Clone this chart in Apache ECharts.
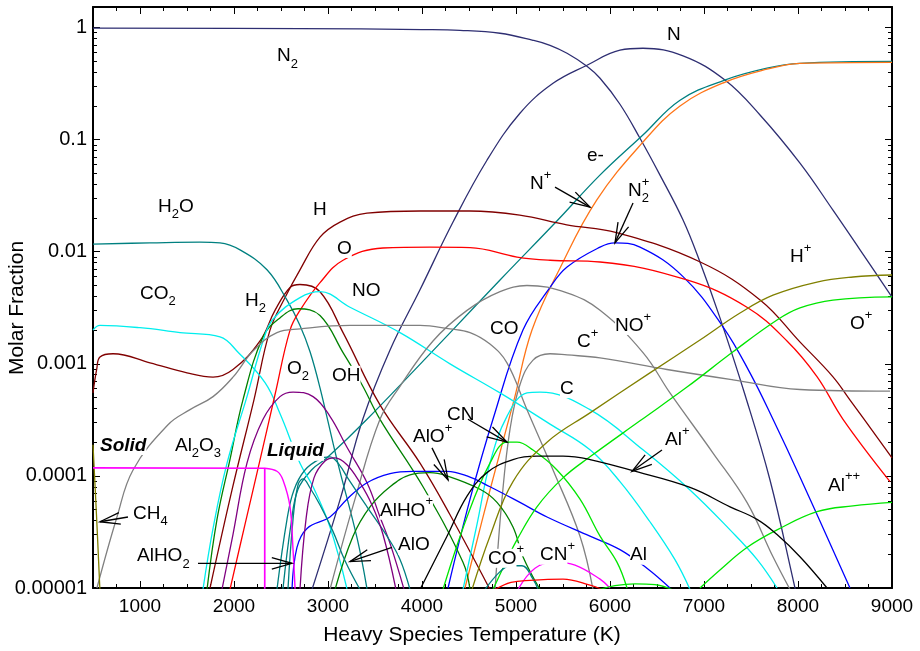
<!DOCTYPE html>
<html>
<head>
<meta charset="utf-8">
<script src="https://cdn.jsdelivr.net/npm/echarts@6/dist/echarts.min.js"></script>
<style>
  html, body { margin: 0; padding: 0; background: #fff; }
  #chart { width: 920px; height: 651px; }
</style>
</head>
<body>
<div id="chart"></div>
<script>
// ---- Axis ticks ----
const xMajorTicks = [1000, 2000, 3000, 4000, 5000, 6000, 7000, 8000, 9000];
const xMinorTicks = [750, 1250, 1500, 1750, 2250, 2500, 2750, 3250, 3500, 3750, 4250, 4500, 4750,
  5250, 5500, 5750, 6250, 6500, 6750, 7250, 7500, 7750, 8250, 8500, 8750];
const yMajorTicks = [1e-5, 1e-4, 1e-3, 1e-2, 1e-1, 1];
const yTickText = ['0.00001', '0.0001', '0.001', '0.01', '0.1', '1'];
const yMinorTicks = [
  2e-5, 3e-5, 4e-5, 5e-5, 6e-5, 7e-5, 8e-5, 9e-5,
  2e-4, 3e-4, 4e-4, 5e-4, 6e-4, 7e-4, 8e-4, 9e-4,
  2e-3, 3e-3, 4e-3, 5e-3, 6e-3, 7e-3, 8e-3, 9e-3,
  0.02, 0.03, 0.04, 0.05, 0.06, 0.07, 0.08, 0.09,
  0.2, 0.3, 0.4, 0.5, 0.6, 0.7, 0.8, 0.9
];

// ---- Molar fractions: [temperature K, molar fraction] ----
const N2 = [[500,0.99],[2700,0.98],[4000,0.96],[4404,0.946],[4830,0.89],[5181,0.77],[5362,0.695],[5543,0.59],[5755,0.452],[5894,0.353],[6106,0.207],[6319,0.103],[6532,0.0483],[6777,0.0192],[6957,0.0081],[7170,2.57e-3],[7436,5.3e-4],[7702,9.2e-5],[7968,1e-5],[8050,5e-6]];
const N = [[2830,9.7e-6],[3130,6.2e-5],[3370,3.2e-4],[3660,1.33e-3],[3980,4.6e-3],[4330,0.0184],[4691,0.0655],[5042,0.172],[5394,0.318],[5755,0.461],[6106,0.628],[6350,0.654],[6777,0.56],[7223,0.34],[7596,0.166],[8021,0.0617],[8372,0.0235],[8660,0.0104],[9000,0.00394]];
const electrons = [[2520,9.7e-6],[2606,3.7e-5],[2681,7.6e-5],[2830,1.14e-4],[2990,1.45e-4],[3415,3.2e-4],[4300,1.9e-3],[4830,5.6e-3],[5440,0.019],[5890,0.048],[6350,0.11],[6745,0.225],[7220,0.34],[7670,0.434],[8020,0.48],[9000,0.5]];
const Nplus = [[4457,1e-5],[4720,7.3e-5],[4980,4.8e-4],[5170,2e-3],[5470,7.2e-3],[5860,0.029],[6350,0.095],[6745,0.2],[7220,0.325],[7670,0.425],[8020,0.48],[9000,0.49]];
const N2plus = [[4277,1e-5],[4511,6.2e-5],[4755,3.2e-4],[5074,2e-3],[5362,4.8e-3],[5543,7.3e-3],[5894,0.011],[6053,0.012],[6319,0.011],[6777,6e-3],[7202,2.14e-3],[7489,8.3e-4],[7734,3.2e-4],[8021,9.8e-5],[8553,1e-5]];
const H = [[1745,1e-5],[1979,7.5e-5],[2213,4.8e-4],[2383,2e-3],[2543,3.9e-3],[2702,6.9e-3],[2915,0.0135],[3128,0.0184],[3415,0.0221],[3980,0.0231],[4510,0.0231],[5040,0.0212],[5540,0.0174],[6070,0.0148],[6960,0.0081],[7600,3.7e-3],[8020,1.57e-3],[8370,7.7e-4],[8550,4.8e-4],[9000,1.45e-4]];
const H2 = [[500,5.5e-4],[540,9e-4],[574,1.15e-3],[713,1.23e-3],[1106,1.02e-3],[1500,8.3e-4],[1777,7.6e-4],[1989,8.9e-4],[2277,1.6e-3],[2436,3e-3],[2596,4.8e-3],[2702,5.1e-3],[2915,4.4e-3],[3160,1.9e-3],[3553,4.3e-4],[3979,1.3e-4],[4298,4.5e-5],[4723,9.7e-6]];
const H2O = [[500,0.0117],[1106,0.012],[1638,0.0122],[1851,0.012],[2064,0.0104],[2351,6.9e-3],[2564,3.7e-3],[2702,2.2e-3],[2809,1.28e-3],[2915,6.1e-4],[3096,1.39e-4],[3309,2.8e-5],[3415,9.8e-6]];
const CO2 = [[500,2.0e-3],[574,2.2e-3],[1000,2.1e-3],[1426,1.9e-3],[1851,1.74e-3],[2043,1.27e-3],[2330,6.8e-4],[2489,3.6e-4],[2702,1.3e-4],[2841,8e-5],[3021,3.5e-5],[3202,9.8e-6]];
const O = [[1957,9.7e-6],[2117,3.7e-5],[2277,1.39e-4],[2436,5.3e-4],[2596,2e-3],[2702,3e-3],[2915,5.3e-3],[3160,8.4e-3],[3585,0.0108],[4085,0.011],[4511,0.0109],[5011,8.97e-3],[5362,8.4e-3],[5894,8.1e-3],[6819,5.6e-3],[7457,3.2e-3],[7883,1.6e-3],[8202,7.7e-4],[8479,3.2e-4],[8979,8.9e-5]];
const OH = [[1713,9.7e-6],[1819,4.1e-5],[1957,1.4e-4],[2096,4.8e-4],[2309,1.74e-3],[2489,2.57e-3],[2681,3.1e-3],[2915,2.7e-3],[3160,1.26e-3],[3362,6.5e-4],[3553,3.2e-4],[4011,8e-5],[4436,1.7e-5],[4511,9.7e-6]];
const NO = [[1670,9.7e-6],[1777,3.4e-5],[1926,1.3e-4],[2138,5.1e-4],[2309,1.6e-3],[2415,2.5e-3],[2702,3.9e-3],[2915,4.4e-3],[3234,3.2e-3],[3766,1.9e-3],[4298,1e-3],[4830,5.5e-4],[5362,2.9e-4],[5787,1.71e-4],[6106,8.9e-5],[6425,3.9e-5],[6691,1.79e-5],[6851,9.7e-6]];
const O2 = [[1872,9.7e-6],[1989,3e-5],[2138,1.3e-4],[2309,3.2e-4],[2489,5.1e-4],[2628,5.6e-4],[2841,5.1e-4],[3021,3.4e-4],[3202,1.8e-4],[3415,8.7e-5],[3553,4.3e-5],[3660,2.5e-5],[3809,9.7e-6]];
const CO = [[542,1e-5],[755,4.3e-5],[926,1.13e-4],[1298,2.86e-4],[1532,3.9e-4],[1777,5.1e-4],[1989,7.6e-4],[2202,1.3e-3],[2457,1.9e-3],[2702,2.05e-3],[3234,2.2e-3],[3979,2.2e-3],[4298,2.05e-3],[4511,1.9e-3],[4723,1.5e-3],[4904,1.02e-3],[5117,3.9e-4],[5394,1.13e-4],[5681,2.9e-5],[5819,9.7e-6]];
const NOplus = [[3021,9.7e-6],[3287,6.2e-5],[3553,3.2e-4],[3766,6.3e-4],[4117,1.6e-3],[4479,3e-3],[4830,4.4e-3],[5117,5e-3],[5543,4.3e-3],[5894,3e-3],[6351,1.26e-3],[6638,5.5e-4],[7096,1.6e-4],[7457,5.8e-5],[7734,1.9e-5],[7915,9.7e-6]];
const Cplus = [[4777,9.7e-6],[4851,6.2e-5],[4936,2.6e-4],[5042,6.5e-4],[5181,1.08e-3],[5362,1.23e-3],[5543,1.2e-3],[5894,1.13e-3],[6606,8.9e-4],[7309,7.2e-4],[8021,5.9e-4],[8979,5.7e-4]];
const C = [[4436,9.7e-6],[4585,3.7e-5],[4723,1.3e-4],[4904,3.4e-4],[5117,5.5e-4],[5255,5.6e-4],[5787,3.9e-4],[6351,1.71e-4],[6851,7.5e-5],[7277,3.3e-5],[7564,1.8e-5],[7777,1e-5]];
const CH4 = [[500,1.9e-4],[537,4.5e-5],[575,9e-6]];
const Al2O3solid = [[500,1.18e-4],[2327,1.17e-4],[2327,1e-6]];
const Al2O3liquid = [[2327,1.17e-4],[2457,1.1e-4],[2521,9.2e-5],[2596,5.3e-5],[2628,2.2e-5],[2650,9.7e-6]];
const Al = [[2617,9.7e-6],[2670,2.3e-5],[2777,3.4e-5],[3021,4.3e-5],[3202,6.2e-5],[3415,8.7e-5],[3660,1.05e-4],[3904,1.1e-4],[4266,1.1e-4],[4479,1e-4],[4723,8e-5],[5042,5.8e-5],[5330,4.3e-5],[5787,2.9e-5],[6106,2.2e-5],[6393,1.5e-5],[6638,1e-5]];
const AlOplus = [[3075,9.7e-6],[3266,2.9e-5],[3447,5.3e-5],[3660,8e-5],[3872,1.02e-4],[4085,1.07e-4],[4266,1e-4],[4617,7.6e-5],[4798,5.8e-5],[4968,3.5e-5],[5074,1.9e-5],[5255,9.7e-6]];
const AlHO2 = [[2457,9.7e-6],[2564,4.1e-5],[2638,7.5e-5],[2755,1.13e-4],[2915,1.42e-4],[3021,1.48e-4],[3128,1.23e-4],[3202,9.8e-5],[3415,5.3e-5],[3628,2.9e-5],[3766,1.8e-5],[3872,9.7e-6]];
const AlO = [[2574,9.7e-6],[2628,4.1e-5],[2681,8.3e-5],[2734,9.4e-5],[2809,7.8e-5],[2915,5.5e-5],[3053,3.2e-5],[3181,1.75e-5],[3340,9.7e-6]];
const AlO2 = [[2702,9.7e-6],[2766,4.1e-5],[2851,9.6e-5],[2968,1.36e-4],[3074,1.45e-4],[3202,1.26e-4],[3340,8.7e-5],[3468,5.5e-5],[3585,3e-5],[3723,9.7e-6]];
const CN = [[4223,9.7e-6],[4479,4.3e-5],[4723,1.3e-4],[4904,2e-4],[5011,2e-4],[5181,1.7e-4],[5436,1.13e-4],[5681,6.2e-5],[5894,2.9e-5],[6074,1.7e-5],[6181,1e-5]];
const Oplus = [[4755,9.7e-6],[4904,1.79e-5],[5011,2.7e-5],[5223,5.3e-5],[5500,9.6e-5],[5787,1.48e-4],[6319,3.1e-4],[6819,6.2e-4],[7309,1.28e-3],[7777,2.46e-3],[8021,3.15e-3],[8372,3.7e-3],[9000,3.95e-3]];
const Alplusplus = [[6957,1e-5],[7170,1.45e-5],[7457,2.3e-5],[7777,3.3e-5],[8202,4.8e-5],[8585,5.4e-5],[9000,5.8e-5]];
const Alplus = [[3979,9.7e-6],[4266,2.9e-5],[4479,6.6e-5],[4691,1.07e-4],[4968,1.4e-4],[5223,1.5e-4],[5500,1.5e-4],[5787,1.4e-4],[6213,1.13e-4],[6851,7.9e-5],[7277,5.3e-5],[7564,4.1e-5],[7777,3e-5],[8021,1.9e-5],[8309,1e-5]];
const Hplus = [[4532,9.7e-6],[4723,2.9e-5],[4968,8.9e-5],[5330,2.0e-4],[5787,3.65e-4],[6425,8.3e-4],[6957,1.63e-3],[7383,2.84e-3],[7734,4.1e-3],[8202,5.37e-3],[8585,5.95e-3],[9000,6.2e-3]];
const COplus = [[4670,9.7e-6],[4830,1.4e-5],[4936,1.58e-5],[5064,1.58e-5],[5181,1.2e-5],[5234,9.7e-6]];
const CNplus = [[5021,9.7e-6],[5202,1.5e-5],[5415,1.7e-5],[5628,1.6e-5],[5894,1.2e-5],[6000,1e-5]];
const redTrace = [[4777,9.7e-6],[4947,1.12e-5],[5149,1.17e-5],[5500,1.2e-5],[5787,1.06e-5],[5915,9.7e-6]];
const limeTrace = [[5894,9.7e-6],[6053,1.05e-5],[6266,1.09e-5],[6479,1.07e-5],[6659,9.7e-6]];

// ---- Species labels and pointer arrows (anchored in data space) ----
const speciesLabels = [
  { at: [2457, 0.555], parts: [['N'], ['2', 'sub']] },
  { at: [6606, 0.863], parts: [['N']] },
  { at: [5755, 0.072], parts: [['e-']] },
  { at: [5149, 0.0405], parts: [['N'], ['+', 'sup']] },
  { at: [6191, 0.0351], parts: [['N'], ['2', 'sub'], ['+', 'sup', 'stack']] },
  { at: [1191, 0.0253], parts: [['H'], ['2', 'sub'], ['O']] },
  { at: [2840, 0.0238], parts: [['H']] },
  { at: [3096, 0.0107], parts: [['O']] },
  { at: [1000, 4.24e-3], parts: [['CO'], ['2', 'sub']] },
  { at: [2117, 3.67e-3], parts: [['H'], ['2', 'sub']] },
  { at: [3255, 4.51e-3], parts: [['NO']] },
  { at: [2564, 9.1e-4], parts: [['O'], ['2', 'sub']] },
  { at: [3043, 7.9e-4], parts: [['OH']] },
  { at: [4723, 2.07e-3], parts: [['CO']] },
  { at: [5649, 1.58e-3], parts: [['C'], ['+', 'sup']] },
  { at: [6053, 2.2e-3], parts: [['NO'], ['+', 'sup']] },
  { at: [5468, 6.0e-4], parts: [['C']] },
  { at: [7915, 9.06e-3], parts: [['H'], ['+', 'sup']] },
  { at: [8553, 2.29e-3], parts: [['O'], ['+', 'sup']] },
  { at: [574, 1.87e-4], parts: [['Solid']], style: 'italic bold' },
  { at: [1372, 1.87e-4], parts: [['Al'], ['2', 'sub'], ['O'], ['3', 'sub']] },
  { at: [2351, 1.66e-4], parts: [['Liquid']], style: 'italic bold' },
  { at: [926, 4.64e-5], parts: [['CH'], ['4', 'sub']] },
  { at: [968, 1.92e-5], parts: [['AlHO'], ['2', 'sub']] },
  { at: [3904, 2.25e-4], parts: [['AlO'], ['+', 'sup']] },
  { at: [4266, 3.54e-4], parts: [['CN']] },
  { at: [3553, 4.93e-5], parts: [['AlHO'], ['+', 'sup']] },
  { at: [3745, 2.41e-5], parts: [['AlO']] },
  { at: [4702, 1.84e-5], parts: [['CO'], ['+', 'sup']] },
  { at: [5255, 1.96e-5], parts: [['CN'], ['+', 'sup']] },
  { at: [6585, 2.08e-4], parts: [['Al'], ['+', 'sup']] },
  { at: [6213, 1.96e-5], parts: [['Al']] },
  { at: [8319, 8.24e-5], parts: [['Al'], ['++', 'sup']] }
];
const pointerArrows = [
  [[5415, 0.0377], [5787, 0.025]],
  [[6245, 0.0272], [6053, 0.012]],
  [[4489, 3.2e-4], [4904, 2.0e-4]],
  [[4106, 1.78e-4], [4277, 9.2e-5]],
  [[6553, 1.7e-4], [6234, 1.1e-4]],
  [[872, 4.3e-5], [574, 3.9e-5]],
  [[1617, 1.66e-5], [2617, 1.66e-5]],
  [[3681, 2.3e-5], [3234, 1.72e-5]]
];

// ---- Styling ----
const FONT = "'Liberation Sans', Arial, Helvetica, sans-serif";
const COL = {
  navy: '#2e2e72', teal: '#008080', orange: '#ff7518', maroon: '#800000', red: '#ff0000',
  cyan: '#00eeee', green: '#008000', lime: '#00e600', purple: '#800080', magenta: '#ff00ff',
  grey: '#808080', olive: '#808000', blue: '#0000ff', black: '#000000'
};

const curves = [
  ['N2', N2, COL.navy], ['N', N, COL.navy], ['e-', electrons, COL.teal], ['N+', Nplus, COL.orange],
  ['N2+', N2plus, COL.blue], ['H', H, COL.maroon], ['H2', H2, COL.maroon], ['H2O', H2O, COL.teal],
  ['CO2', CO2, COL.cyan], ['O', O, COL.red], ['OH', OH, COL.green], ['NO', NO, COL.cyan],
  ['O2', O2, COL.purple], ['CO', CO, COL.grey], ['NO+', NOplus, COL.grey], ['C+', Cplus, COL.grey],
  ['C', C, COL.cyan], ['CH4', CH4, COL.olive], ['Al', Al, COL.blue], ['AlO+', AlOplus, COL.green],
  ['AlHO2', AlHO2, COL.teal], ['AlO', AlO, COL.teal], ['AlO2', AlO2, COL.purple], ['CN', CN, COL.lime],
  ['O+', Oplus, COL.lime], ['Al++', Alplusplus, COL.lime], ['Al+', Alplus, COL.black], ['H+', Hplus, COL.olive],
  ['CO+', COplus, COL.teal], ['CN+', CNplus, COL.magenta], ['redTrace', redTrace, COL.red],
  ['limeTrace', limeTrace, COL.lime]
];

const series = curves.map(([name, data, color]) => ({
  type: 'line', name, data, symbol: 'none', smooth: 0.4, clip: true, silent: true,
  lineStyle: { color, width: 1.3 }, z: 2
}));
series.push({
  type: 'line', name: 'Al2O3(s)', data: Al2O3solid, symbol: 'none', smooth: false, clip: true,
  silent: true, lineStyle: { color: COL.magenta, width: 1.7 }, z: 3
});
series.push({
  type: 'line', name: 'Al2O3(l)', data: Al2O3liquid, symbol: 'none', smooth: 0.35, clip: true,
  silent: true, lineStyle: { color: COL.magenta, width: 1.4 }, z: 3
});

function xAxisDef(position, major, labels) {
  return {
    type: 'value', min: 500, max: 9000, position,
    axisLine: { show: major, onZero: false, lineStyle: { color: '#000', width: 2 } },
    axisTick: { show: true, inside: true, length: major ? 7 : 4,
      lineStyle: { color: '#000', width: 1 }, customValues: major ? xMajorTicks : xMinorTicks },
    axisLabel: { show: labels, customValues: xMajorTicks, fontSize: 19, color: '#000',
      fontFamily: FONT, margin: 9, formatter: v => String(v) },
    splitLine: { show: false }
  };
}
function yAxisDef(position, major, labels) {
  return {
    type: 'log', logBase: 10, min: 1e-5, max: 1.526, position,
    axisLine: { show: major, onZero: false, lineStyle: { color: '#000', width: 2 } },
    axisTick: { show: true, inside: true, length: major ? 7 : 4,
      lineStyle: { color: '#000', width: 1 }, customValues: major ? yMajorTicks : yMinorTicks },
    axisLabel: { show: labels, customValues: yMajorTicks, fontSize: 20, color: '#000',
      fontFamily: FONT, margin: 6,
      formatter: v => yTickText[Math.round(Math.log10(v)) + 5] },
    splitLine: { show: false }
  };
}

const chart = echarts.init(document.getElementById('chart'), null, { renderer: 'canvas' });
chart.setOption({
  animation: false,
  backgroundColor: '#fff',
  grid: { left: 93, right: 28, top: 7, bottom: 63, containLabel: false, outerBoundsMode: 'none' },
  xAxis: [
    xAxisDef('bottom', true, true), xAxisDef('bottom', false, false),
    xAxisDef('top', true, false), xAxisDef('top', false, false)
  ],
  yAxis: [
    yAxisDef('left', true, true), yAxisDef('left', false, false),
    yAxisDef('right', true, false), yAxisDef('right', false, false)
  ],
  series
});

// ---- Overlay: axis titles, species labels, arrows ----
const measureCtx = document.createElement('canvas').getContext('2d');
function textWidth(str, font) { measureCtx.font = font; return measureCtx.measureText(str).width; }
const toPx = p => chart.convertToPixel({ xAxisIndex: 0, yAxisIndex: 0 }, p);

function textEl(text, x, y, font) {
  return {
    type: 'text', z: 100, silent: true,
    style: { text, x, y, font, fill: '#000', align: 'left', verticalAlign: 'middle',
      textAlign: 'left', textVerticalAlign: 'middle', backgroundColor: '#fff' }
  };
}

const graphics = [];
speciesLabels.forEach(spec => {
  const [x0, y0] = toPx(spec.at);
  let x = x0, prevX = x0;
  spec.parts.forEach(([txt, kind, stack]) => {
    const size = kind ? 13 : 19;
    const dy = kind === 'sub' ? 8 : kind === 'sup' ? -8.5 : 0;
    const font = `${spec.style || ''} ${size}px ${FONT}`.trim();
    const px = stack ? prevX : x;
    graphics.push(textEl(txt, px, y0 + dy, font));
    prevX = px;
    x = px + textWidth(txt, font);
  });
});

pointerArrows.forEach(([from, to]) => {
  const p0 = toPx(from), p1 = toPx(to);
  const ang = Math.atan2(p1[1] - p0[1], p1[0] - p0[0]);
  const L = 21, a = 0.28;
  const w1 = [p1[0] - L * Math.cos(ang - a), p1[1] - L * Math.sin(ang - a)];
  const w2 = [p1[0] - L * Math.cos(ang + a), p1[1] - L * Math.sin(ang + a)];
  graphics.push({ type: 'line', z: 101, silent: true,
    shape: { x1: p0[0], y1: p0[1], x2: p1[0], y2: p1[1] },
    style: { stroke: '#000', lineWidth: 1.3 } });
  graphics.push({ type: 'polyline', z: 101, silent: true,
    shape: { points: [w1, p1, w2] },
    style: { stroke: '#000', fill: null, lineWidth: 1.3 } });
});

graphics.push({
  type: 'text', z: 100, silent: true,
  style: { text: 'Heavy Species Temperature (K)', x: 472, y: 635, font: `21px ${FONT}`, fill: '#000',
    align: 'center', verticalAlign: 'middle', textAlign: 'center', textVerticalAlign: 'middle' }
});
graphics.push({
  type: 'text', z: 100, silent: true, x: 17, y: 308, rotation: Math.PI / 2,
  style: { text: 'Molar Fraction', x: 0, y: 0, font: `21px ${FONT}`, fill: '#000',
    align: 'center', verticalAlign: 'middle', textAlign: 'center', textVerticalAlign: 'middle' }
});

chart.setOption({ graphic: graphics });
</script>
</body>
</html>
